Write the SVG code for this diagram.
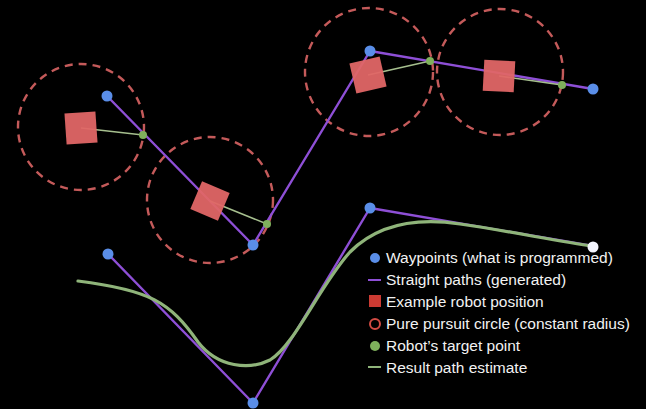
<svg xmlns="http://www.w3.org/2000/svg" width="646" height="409" viewBox="0 0 646 409">
<style>
.bg{fill:#000}
.circ{fill:none;stroke:#d96464;stroke-width:2.4;stroke-dasharray:8 6;opacity:0.9}
.robot{fill:#e06666;opacity:0.95}
.tline{stroke:#a6bf8e;stroke-width:1.6}
.path{fill:none;stroke:#8e4fd6;stroke-width:2.4;stroke-linejoin:round}
.wp{fill:#5a8ee8}
.tp{fill:#7fb05c}
.curve{fill:none;stroke:#8fb47a;stroke-width:3.2;stroke-linecap:round}
.lg{font-family:"Liberation Sans",Arial,sans-serif;font-size:15.5px;fill:#f2f2f2}
</style>
<rect class="bg" x="0" y="0" width="646" height="409"/>
<g id="circles">
<circle class="circ" cx="81" cy="127" r="63"/>
<circle class="circ" cx="210" cy="200" r="63"/>
<circle class="circ" cx="369" cy="72" r="64"/>
<circle class="circ" cx="500" cy="72" r="63"/>
</g>
<g id="connectors">
<polyline class="path" points="107,96 253,245 370,51 593,89"/>
<polyline class="path" points="108,254 253,403 370,208 593,246"/>
<path class="curve" d="M78,281 C150,290 170,302 198,342 C218,368 250,370 270,360 C295,345 320,285 350,252 C380,222 420,218 460,224 C510,231 560,242 593,246"/>
<line class="tline" x1="81" y1="128" x2="143" y2="135"/>
<line class="tline" x1="210" y1="201" x2="267" y2="224"/>
<line class="tline" x1="368" y1="75" x2="430" y2="61"/>
<line class="tline" x1="499" y1="76" x2="562" y2="85"/>
</g>
<g id="robots">
<rect class="robot" x="-15.5" y="-15.5" width="31" height="31" transform="translate(81,128) rotate(-4)"/>
<rect class="robot" x="-15" y="-15" width="30" height="30" transform="translate(210,201) rotate(23)"/>
<rect class="robot" x="-15.5" y="-15.5" width="31" height="31" transform="translate(368,75) rotate(-13)"/>
<rect class="robot" x="-15.5" y="-15.5" width="31" height="31" transform="translate(499,76) rotate(3)"/>
</g>
<g id="targets">
<circle class="tp" cx="143" cy="135" r="4"/>
<circle class="tp" cx="267" cy="224" r="4"/>
<circle class="tp" cx="430" cy="61" r="4"/>
<circle class="tp" cx="562" cy="85" r="4"/>
</g>
<g id="waypoints">
<circle class="wp" cx="107" cy="96" r="5.5"/>
<circle class="wp" cx="253" cy="245" r="5.5"/>
<circle class="wp" cx="370" cy="51" r="5.5"/>
<circle class="wp" cx="593" cy="89" r="5.5"/>
<circle class="wp" cx="108" cy="254" r="5.5"/>
<circle class="wp" cx="253" cy="403" r="5.5"/>
<circle class="wp" cx="370" cy="208" r="5.5"/>
<circle cx="593" cy="247" r="5.5" fill="#f4f6ff"/>
</g>
<g id="legend">
<circle cx="375" cy="258" r="5" fill="#5a8ee8"/>
<line x1="368" y1="280" x2="381" y2="280" stroke="#8e4fd6" stroke-width="2"/>
<rect x="369" y="295" width="12" height="12" fill="#cc3b33"/>
<circle cx="375" cy="324" r="5" fill="none" stroke="#d24b43" stroke-width="2"/>
<circle cx="375" cy="346" r="5" fill="#7fb05c"/>
<line x1="368" y1="367" x2="381" y2="367" stroke="#8fb47a" stroke-width="2"/>
<text class="lg" x="386" y="263">Waypoints (what is programmed)</text>
<text class="lg" x="386" y="285">Straight paths (generated)</text>
<text class="lg" x="386" y="307">Example robot position</text>
<text class="lg" x="386" y="329">Pure pursuit circle (constant radius)</text>
<text class="lg" x="386" y="351">Robot’s target point</text>
<text class="lg" x="386" y="373">Result path estimate</text>
</g>
</svg>
